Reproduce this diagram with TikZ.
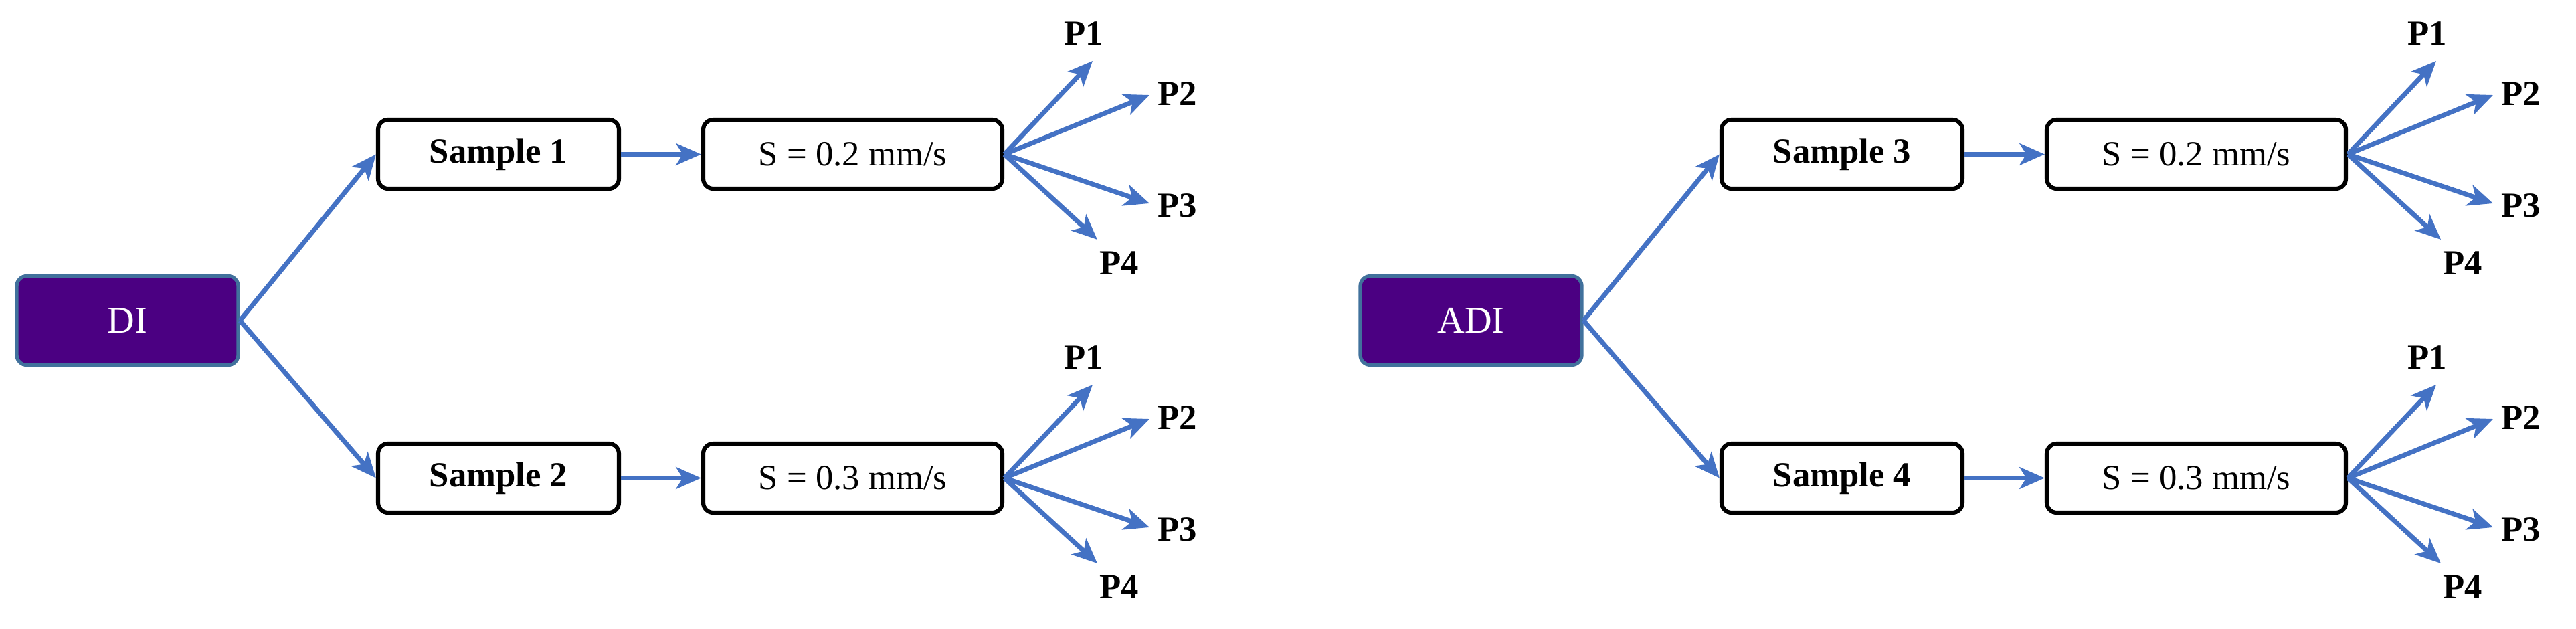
\documentclass[tikz,border=0pt]{standalone}
\usepackage{fontspec}
\setmainfont{Liberation Serif}
\usetikzlibrary{arrows.meta}
\definecolor{arr}{HTML}{4472C4}
\definecolor{purp}{HTML}{4B0082}
\definecolor{pb}{HTML}{41719C}
\tikzset{
 box/.style={draw=black,line width=3.5pt,rounded corners=0.3cm,fill=white,minimum width=7.2cm,minimum height=2.06cm,font=\fontsize{30}{36}\selectfont\bfseries},
 sbox/.style={box,minimum width=8.94cm,font=\fontsize{30}{36}\selectfont},
 root/.style={draw=pb,line width=3pt,rounded corners=0.3cm,fill=purp,text=white,minimum width=6.62cm,minimum height=2.66cm,font=\fontsize{32}{38}\selectfont},
 lab/.style={font=\fontsize{30}{36}\selectfont\bfseries,inner sep=1pt},
 ar/.style={draw=arr,line width=4pt,-{Stealth[length=0.75cm,width=0.65cm,inset=0.2cm]}}
}
\newcommand{\grp}[7]{% prefix, xshift, rootlabel, sampleA, sampleB, sA, sB
\begin{scope}[xshift=#2cm]
\node[root] (#1r) at (3.81,-9.58) {#3};
\node[box] (#1a) at (14.9,-4.61) {#4};
\node[box] (#1b) at (14.9,-14.29) {#5};
\node[sbox] (#1sa) at (25.49,-4.61) {#6};
\node[sbox] (#1sb) at (25.49,-14.29) {#7};
\draw[ar] (#1r.east) -- (#1a.west);
\draw[ar] (#1r.east) -- (#1b.west);
\draw[ar] (#1a) -- (#1sa);
\draw[ar] (#1b) -- (#1sb);
\foreach \q/\dy in {a/0,b/-9.68}{
 \begin{scope}[yshift=\dy cm]
 \node[lab] (#1\q p1) at (32.4,-1.0) {P1};
 \node[lab] (#1\q p2) at (35.2,-2.8) {P2};
 \node[lab] (#1\q p3) at (35.2,-6.14) {P3};
 \node[lab] (#1\q p4) at (33.45,-7.86) {P4};
 \coordinate (#1\q t1) at (32.66,-1.82);
 \coordinate (#1\q t2) at (34.36,-2.84);
 \coordinate (#1\q t3) at (34.36,-6.08);
 \coordinate (#1\q t4) at (32.8,-7.16);
 \end{scope}
 \foreach \k in {1,2,3,4}{\draw[ar] (#1s\q.east) -- (#1\q t\k);}
}
\end{scope}}
\begin{document}
\begin{tikzpicture}
\useasboundingbox (0,0) rectangle (77,-18.8);
\grp{l}{0}{DI}{Sample 1}{Sample 2}{S = 0.2 mm/s}{S = 0.3 mm/s}
\grp{r}{40.16}{ADI}{Sample 3}{Sample 4}{S = 0.2 mm/s}{S = 0.3 mm/s}
\end{tikzpicture}
\end{document}
